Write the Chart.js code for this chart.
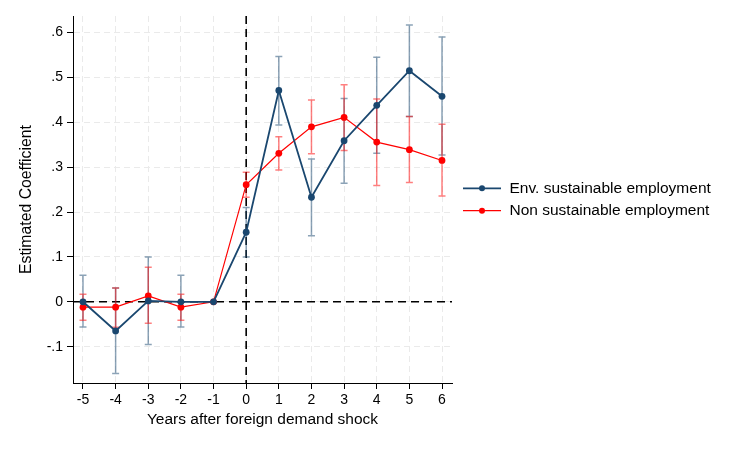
<!DOCTYPE html>
<html><head><meta charset="utf-8">
<script src="https://cdn.jsdelivr.net/npm/chart.js@4"></script>
<style>html,body{margin:0;padding:0;background:#fff;} #wrap{width:747px;height:449px;position:relative;}</style>
</head><body><div id="wrap"><canvas id="c" width="747" height="449"></canvas></div>
<script>
const years = [-5,-4,-3,-2,-1,0,1,2,3,4,5,6];
const envCoef = [0, -0.065, 0.002, 0, 0, 0.155, 0.471, 0.233, 0.359, 0.438, 0.515, 0.458];
const envLow  = [-0.056, -0.160, -0.095, -0.056, null, 0.100, 0.394, 0.147, 0.264, 0.331, 0.413, 0.327];
const envHigh = [0.059, 0.031, 0.100, 0.059, null, 0.210, 0.547, 0.318, 0.453, 0.545, 0.617, 0.590];
const nonCoef = [-0.012, -0.012, 0.013, -0.012, 0, 0.261, 0.331, 0.390, 0.411, 0.356, 0.339, 0.315];
const nonLow  = [-0.041, -0.057, -0.048, -0.041, null, 0.233, 0.294, 0.330, 0.337, 0.259, 0.266, 0.236];
const nonHigh = [0.017, 0.031, 0.077, 0.017, null, 0.289, 0.368, 0.450, 0.484, 0.452, 0.413, 0.396];
const yTickValues = [-0.1, 0, 0.1, 0.2, 0.3, 0.4, 0.5, 0.6];
const yTickLabels = ['-.1', '0', '.1', '.2', '.3', '.4', '.5', '.6'];
const xTickValues = [-5,-4,-3,-2,-1,0,1,2,3,4,5,6];
const xTickLabels = ['-5','-4','-3','-2','-1','0','1','2','3','4','5','6'];
const seriesLabels = ['Env. sustainable employment', 'Non sustainable employment'];
const xTitle = 'Years after foreign demand shock';
const yTitle = 'Estimated Coefficient';

const FONT = '"Liberation Sans", Arial, Helvetica, sans-serif';
const BLUE = '#1a476f';
const RED = '#ff0000';
const ciSets = [
  {low: envLow, high: envHigh, color: 'rgba(26,71,111,0.5)'},
  {low: nonLow, high: nonHigh, color: 'rgba(255,0,0,0.5)'}
];

const overlay = {
  id: 'overlay',
  beforeDatasetsDraw(chart) {
    const {ctx, chartArea: a, scales: {x, y}} = chart;
    ctx.save();
    ctx.strokeStyle = '#000';
    ctx.lineWidth = 1.6;
    ctx.setLineDash([8, 5]);
    const y0 = y.getPixelForValue(0);
    ctx.beginPath(); ctx.moveTo(a.left, y0); ctx.lineTo(a.right, y0); ctx.stroke();
    const x0 = x.getPixelForValue(0);
    ctx.beginPath(); ctx.moveTo(x0, a.top); ctx.lineTo(x0, a.bottom); ctx.stroke();
    ctx.setLineDash([]);
    ciSets.forEach(s => {
      ctx.strokeStyle = s.color;
      ctx.lineWidth = 1.5;
      years.forEach((yr, i) => {
        if (s.low[i] == null) return;
        const px = x.getPixelForValue(yr);
        const pl = y.getPixelForValue(s.low[i]);
        const ph = y.getPixelForValue(s.high[i]);
        ctx.beginPath();
        ctx.moveTo(px, pl); ctx.lineTo(px, ph);
        ctx.moveTo(px - 3.5, pl); ctx.lineTo(px + 3.5, pl);
        ctx.moveTo(px - 3.5, ph); ctx.lineTo(px + 3.5, ph);
        ctx.stroke();
      });
    });
    ctx.restore();
  },
  afterDraw(chart) {
    const {ctx} = chart;
    ctx.save();
    const rows = [188.3, 210.7];
    chart.data.datasets.forEach((ds, i) => {
      const yy = rows[i];
      ctx.strokeStyle = ds.borderColor;
      ctx.lineWidth = ds.borderWidth;
      ctx.beginPath(); ctx.moveTo(463, yy); ctx.lineTo(501, yy); ctx.stroke();
      ctx.fillStyle = ds.pointBackgroundColor;
      ctx.beginPath(); ctx.arc(482, yy, 3, 0, Math.PI * 2); ctx.fill();
      ctx.fillStyle = '#000';
      ctx.font = '15.5px ' + FONT;
      ctx.textBaseline = 'middle';
      ctx.textAlign = 'left';
      ctx.fillText(ds.label, 509.5, yy);
    });
    ctx.restore();
  }
};

new Chart(document.getElementById('c'), {
  type: 'line',
  data: {
    datasets: [
      {label: seriesLabels[0], data: years.map((v, i) => ({x: v, y: envCoef[i]})),
       borderColor: BLUE, backgroundColor: BLUE, pointBackgroundColor: BLUE, pointBorderColor: BLUE,
       borderWidth: 1.8, pointRadius: 3.4, pointBorderWidth: 0, tension: 0},
      {label: seriesLabels[1], data: years.map((v, i) => ({x: v, y: nonCoef[i]})),
       borderColor: RED, backgroundColor: RED, pointBackgroundColor: RED, pointBorderColor: RED,
       borderWidth: 1.2, pointRadius: 3.4, pointBorderWidth: 0, tension: 0}
    ]
  },
  options: {
    responsive: false,
    animation: false,
    devicePixelRatio: 1,
    layout: {padding: {left: 0, top: 16, right: 295, bottom: 0}},
    plugins: {legend: {display: false}, tooltip: {enabled: false}},
    scales: {
      x: {
        type: 'linear', min: -5.306, max: 6.306,
        afterBuildTicks: s => { s.ticks = xTickValues.map(v => ({value: v})); },
        afterFit: s => { s.height = 66; },
        ticks: {autoSkip: false, maxRotation: 0, padding: 3, color: '#000',
                font: {family: FONT, size: 14}, callback: (v, i) => xTickLabels[i]},
        grid: {color: '#eaeaea', lineWidth: 1, tickColor: '#000', tickLength: 6, tickWidth: 1, tickBorderDash: []},
        border: {display: true, color: '#000', width: 1, dash: [6, 4]},
        title: {display: true, text: xTitle, color: '#000', font: {family: FONT, size: 15.5, lineHeight: 1.2},
                padding: {top: 20, bottom: 20}}
      },
      y: {
        type: 'linear', min: -0.181, max: 0.637,
        afterBuildTicks: s => { s.ticks = yTickValues.map(v => ({value: v})); },
        afterFit: s => { s.width = 73; },
        ticks: {autoSkip: false, padding: 4, color: '#000',
                font: {family: FONT, size: 14}, callback: (v, i) => yTickLabels[i]},
        grid: {color: '#eaeaea', lineWidth: 1, tickColor: '#000', tickLength: 6, tickWidth: 1, tickBorderDash: []},
        border: {display: true, color: '#000', width: 1, dash: [6, 4]},
        title: {display: true, text: yTitle, color: '#000', font: {family: FONT, size: 15.8, lineHeight: 1.2},
                padding: {top: 17, bottom: 17}}
      }
    }
  },
  plugins: [overlay]
});
</script>
</body></html>
